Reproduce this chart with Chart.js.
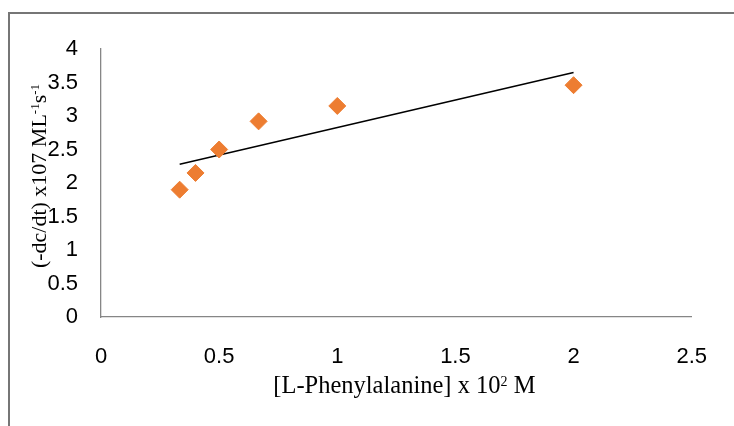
<!DOCTYPE html>
<html>
<head>
<meta charset="utf-8">
<script src="https://cdn.jsdelivr.net/npm/chart.js@4/dist/chart.umd.min.js"></script>
<style>
  html, body { margin: 0; padding: 0; background: #fff; }
  #wrap { width: 734px; height: 426px; position: relative; }
</style>
</head>
<body>
<div id="wrap"><canvas id="rate-chart"></canvas></div>
<script>
// concentration of L-phenylalanine (x 10^2 M)
const concValues = [0.333, 0.4, 0.5, 0.667, 1, 2];
// rate (-dc/dt) x 10^7 M L^-1 s^-1
const rateValues = [1.9, 2.15, 2.5, 2.92, 3.15, 3.46];
// linear trendline end points
const trendX = [0.333, 2];
const trendY = [2.28, 3.65];

const xTickValues = [0, 0.5, 1, 1.5, 2, 2.5];
const yTickValues = [0, 0.5, 1, 1.5, 2, 2.5, 3, 3.5, 4];

const xTitleParts = [["[L-Phenylalanine] x 10", false], ["2", true], [" M", false]];
const yTitleParts = [["(-dc/dt) x107 ML", false], ["-1", true], ["s", false], ["-1", true]];

const tickFont = { family: "'Liberation Sans', Arial, sans-serif", size: 22 };
const titleFamily = "'Liberation Serif', 'Times New Roman', serif";

function drawRich(ctx, parts, size, cx, cy, rotation) {
  const big = size + "px " + titleFamily;
  const small = Math.round(size * 0.58) + "px " + titleFamily;
  let total = 0;
  parts.forEach(p => {
    ctx.font = p[1] ? small : big;
    total += ctx.measureText(p[0]).width;
  });
  ctx.save();
  ctx.translate(cx, cy);
  ctx.rotate(rotation);
  ctx.fillStyle = "#000";
  ctx.textBaseline = "alphabetic";
  ctx.textAlign = "left";
  let x = -total / 2;
  parts.forEach(p => {
    ctx.font = p[1] ? small : big;
    ctx.fillText(p[0], x, p[1] ? -size * 0.3 : 0);
    x += ctx.measureText(p[0]).width;
  });
  ctx.restore();
}

const framePlugin = {
  id: "frame",
  afterDraw(chart) {
    const ctx = chart.ctx;
    const area = chart.chartArea;
    ctx.save();
    ctx.strokeStyle = "#767676";
    ctx.lineWidth = 2;
    ctx.beginPath();
    ctx.moveTo(9, chart.height);
    ctx.lineTo(9, 13);
    ctx.lineTo(chart.width, 13);
    ctx.stroke();
    ctx.restore();

    drawRich(ctx, xTitleParts, 24.5, (area.left + area.right) / 2 + 8, area.bottom + 76, 0);
    drawRich(ctx, yTitleParts, 22, 46, (area.top + area.bottom) / 2 - 7, -Math.PI / 2);
  }
};

new Chart(document.getElementById("rate-chart"), {
  data: {
    datasets: [
      {
        type: "scatter",
        label: "rate",
        data: concValues.map((x, i) => ({ x: x, y: rateValues[i] })),
        pointStyle: "rectRot",
        pointRadius: 8.5,
        pointBackgroundColor: "#ED7D31",
        pointBorderColor: "#ED7D31",
        pointBorderWidth: 1
      },
      {
        type: "line",
        label: "trend",
        data: trendX.map((x, i) => ({ x: x, y: trendY[i] })),
        borderColor: "#000",
        borderWidth: 1.5,
        pointRadius: 0,
        fill: false
      }
    ]
  },
  options: {
    responsive: true,
    maintainAspectRatio: false,
    animation: false,
    layout: { padding: { left: 0, top: 49, right: 42, bottom: 0 } },
    plugins: {
      legend: { display: false },
      tooltip: { enabled: false }
    },
    scales: {
      x: {
        type: "linear",
        min: 0,
        max: 2.5,
        afterBuildTicks: s => { s.ticks = xTickValues.map(v => ({ value: v })); },
        afterFit: s => { s.height = 109; },
        grid: { display: false, drawTicks: false },
        border: { display: true, color: "#868686", width: 1.3 },
        ticks: { font: tickFont, color: "#000", padding: 27, maxRotation: 0, callback: v => String(v) }
      },
      y: {
        type: "linear",
        min: 0,
        max: 4,
        afterBuildTicks: s => { s.ticks = yTickValues.map(v => ({ value: v })); },
        afterFit: s => { s.width = 101; },
        grid: { display: false, drawTicks: false },
        border: { display: true, color: "#868686", width: 1.3 },
        ticks: { font: tickFont, color: "#000", padding: 23, callback: v => String(v) }
      }
    }
  },
  plugins: [framePlugin]
});
</script>
</body>
</html>
